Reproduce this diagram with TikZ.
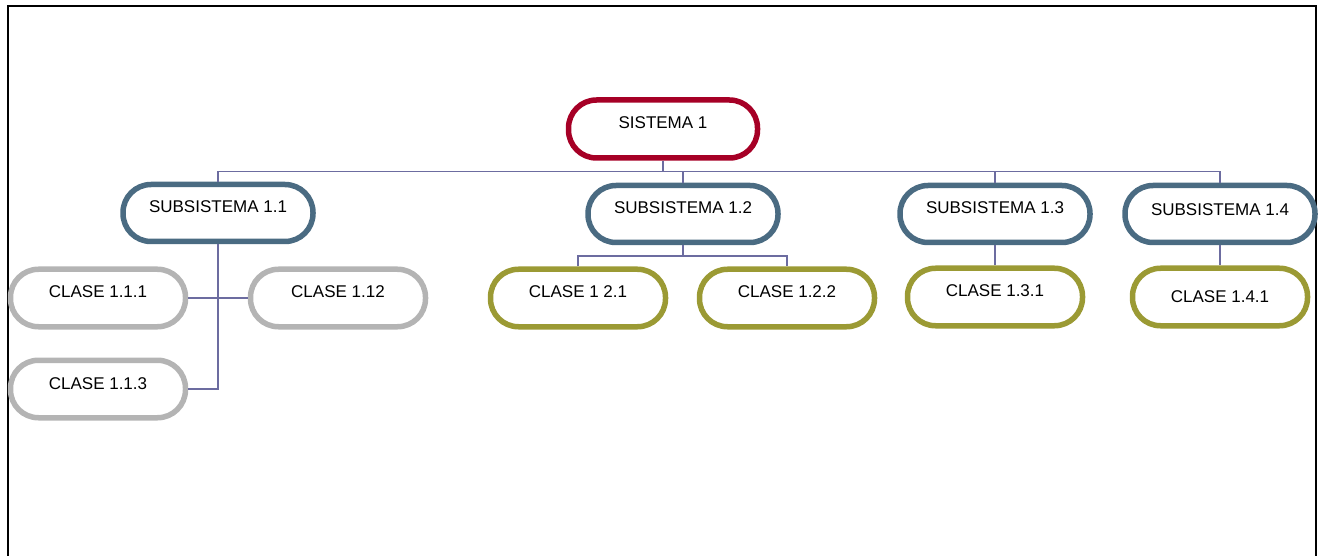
\documentclass[tikz,border=0pt]{standalone}
\usepackage{fontspec}
\setmainfont{Liberation Sans}
\usetikzlibrary{positioning}

\definecolor{sysred}{RGB}{166,0,38}
\definecolor{subblue}{RGB}{74,107,130}
\definecolor{clagray}{RGB}{180,180,180}
\definecolor{claolive}{RGB}{155,154,52}
\definecolor{linkline}{RGB}{108,108,160}

\begin{document}
\begin{tikzpicture}[x=1pt, y=-1pt,
  box/.style={draw, fill=white, line width=5.5pt, rounded corners=28pt,
    inner sep=0pt, text height=12pt, text depth=12pt,
    font=\fontsize{17}{20}\selectfont},
  sysbox/.style={box, draw=sysred, minimum width=189pt, minimum height=58pt},
  subbox/.style={box, draw=subblue, minimum width=190pt, minimum height=57pt},
  graybox/.style={box, draw=clagray, minimum width=175pt, minimum height=57.5pt},
  olivebox/.style={box, draw=claolive, minimum width=175pt, minimum height=57.5pt},
  link/.style={draw=linkline, line width=1.5pt}]
  \useasboundingbox (0, 0) rectangle (1318, 556);

  \draw [line width=2.5pt] (8, 556) -- (8, 6) -- (1316, 6) -- (1316, 556);

  \node [sysbox] (sistema) at (663, 129) {SISTEMA 1};

  \node [subbox] (sub11) at (218, 213) {SUBSISTEMA 1.1};
  \node [subbox] (sub12) at (683, 214) {SUBSISTEMA 1.2};
  \node [subbox] (sub13) at (995, 214) {SUBSISTEMA 1.3};
  \node [subbox, text depth=8pt] (sub14) at (1220, 214) {SUBSISTEMA 1.4};

  \node [graybox] (clase111) at (98, 298) {CLASE 1.1.1};
  \node [graybox] (clase112) at (338, 298) {CLASE 1.12};
  \node [graybox] (clase113) at (98, 389) {CLASE 1.1.3};

  \node [olivebox] (clase121) at (578, 298) {CLASE 1 2.1};
  \node [olivebox] (clase122) at (787, 298) {CLASE 1.2.2};
  \node [olivebox] (clase131) at (995, 297) {CLASE 1.3.1};
  \node [olivebox, text depth=1pt] (clase141) at (1220, 297) {CLASE 1.4.1};

  \coordinate (bus) at (663, 171.5);
  \coordinate (bus12) at (683, 256);

  \draw [link] (sistema.south) -- (sistema.south |- bus);
  \draw [link] (sub11.north) -- (sub11.north |- bus) -- (sub14.north |- bus) -- (sub14.north);
  \draw [link] (sub12.north) -- (sub12.north |- bus);
  \draw [link] (sub13.north) -- (sub13.north |- bus);

  \draw [link] (sub11.south) -- (sub11.south |- clase113) -- (clase113.east);
  \draw [link] (clase111.east) -- (clase112.west);

  \draw [link] (sub12.south) -- (bus12);
  \draw [link] (clase121.north) |- (bus12) -| (clase122.north);
  \draw [link] (sub13.south) -- (clase131.north);
  \draw [link] (sub14.south) -- (clase141.north);
\end{tikzpicture}
\end{document}
